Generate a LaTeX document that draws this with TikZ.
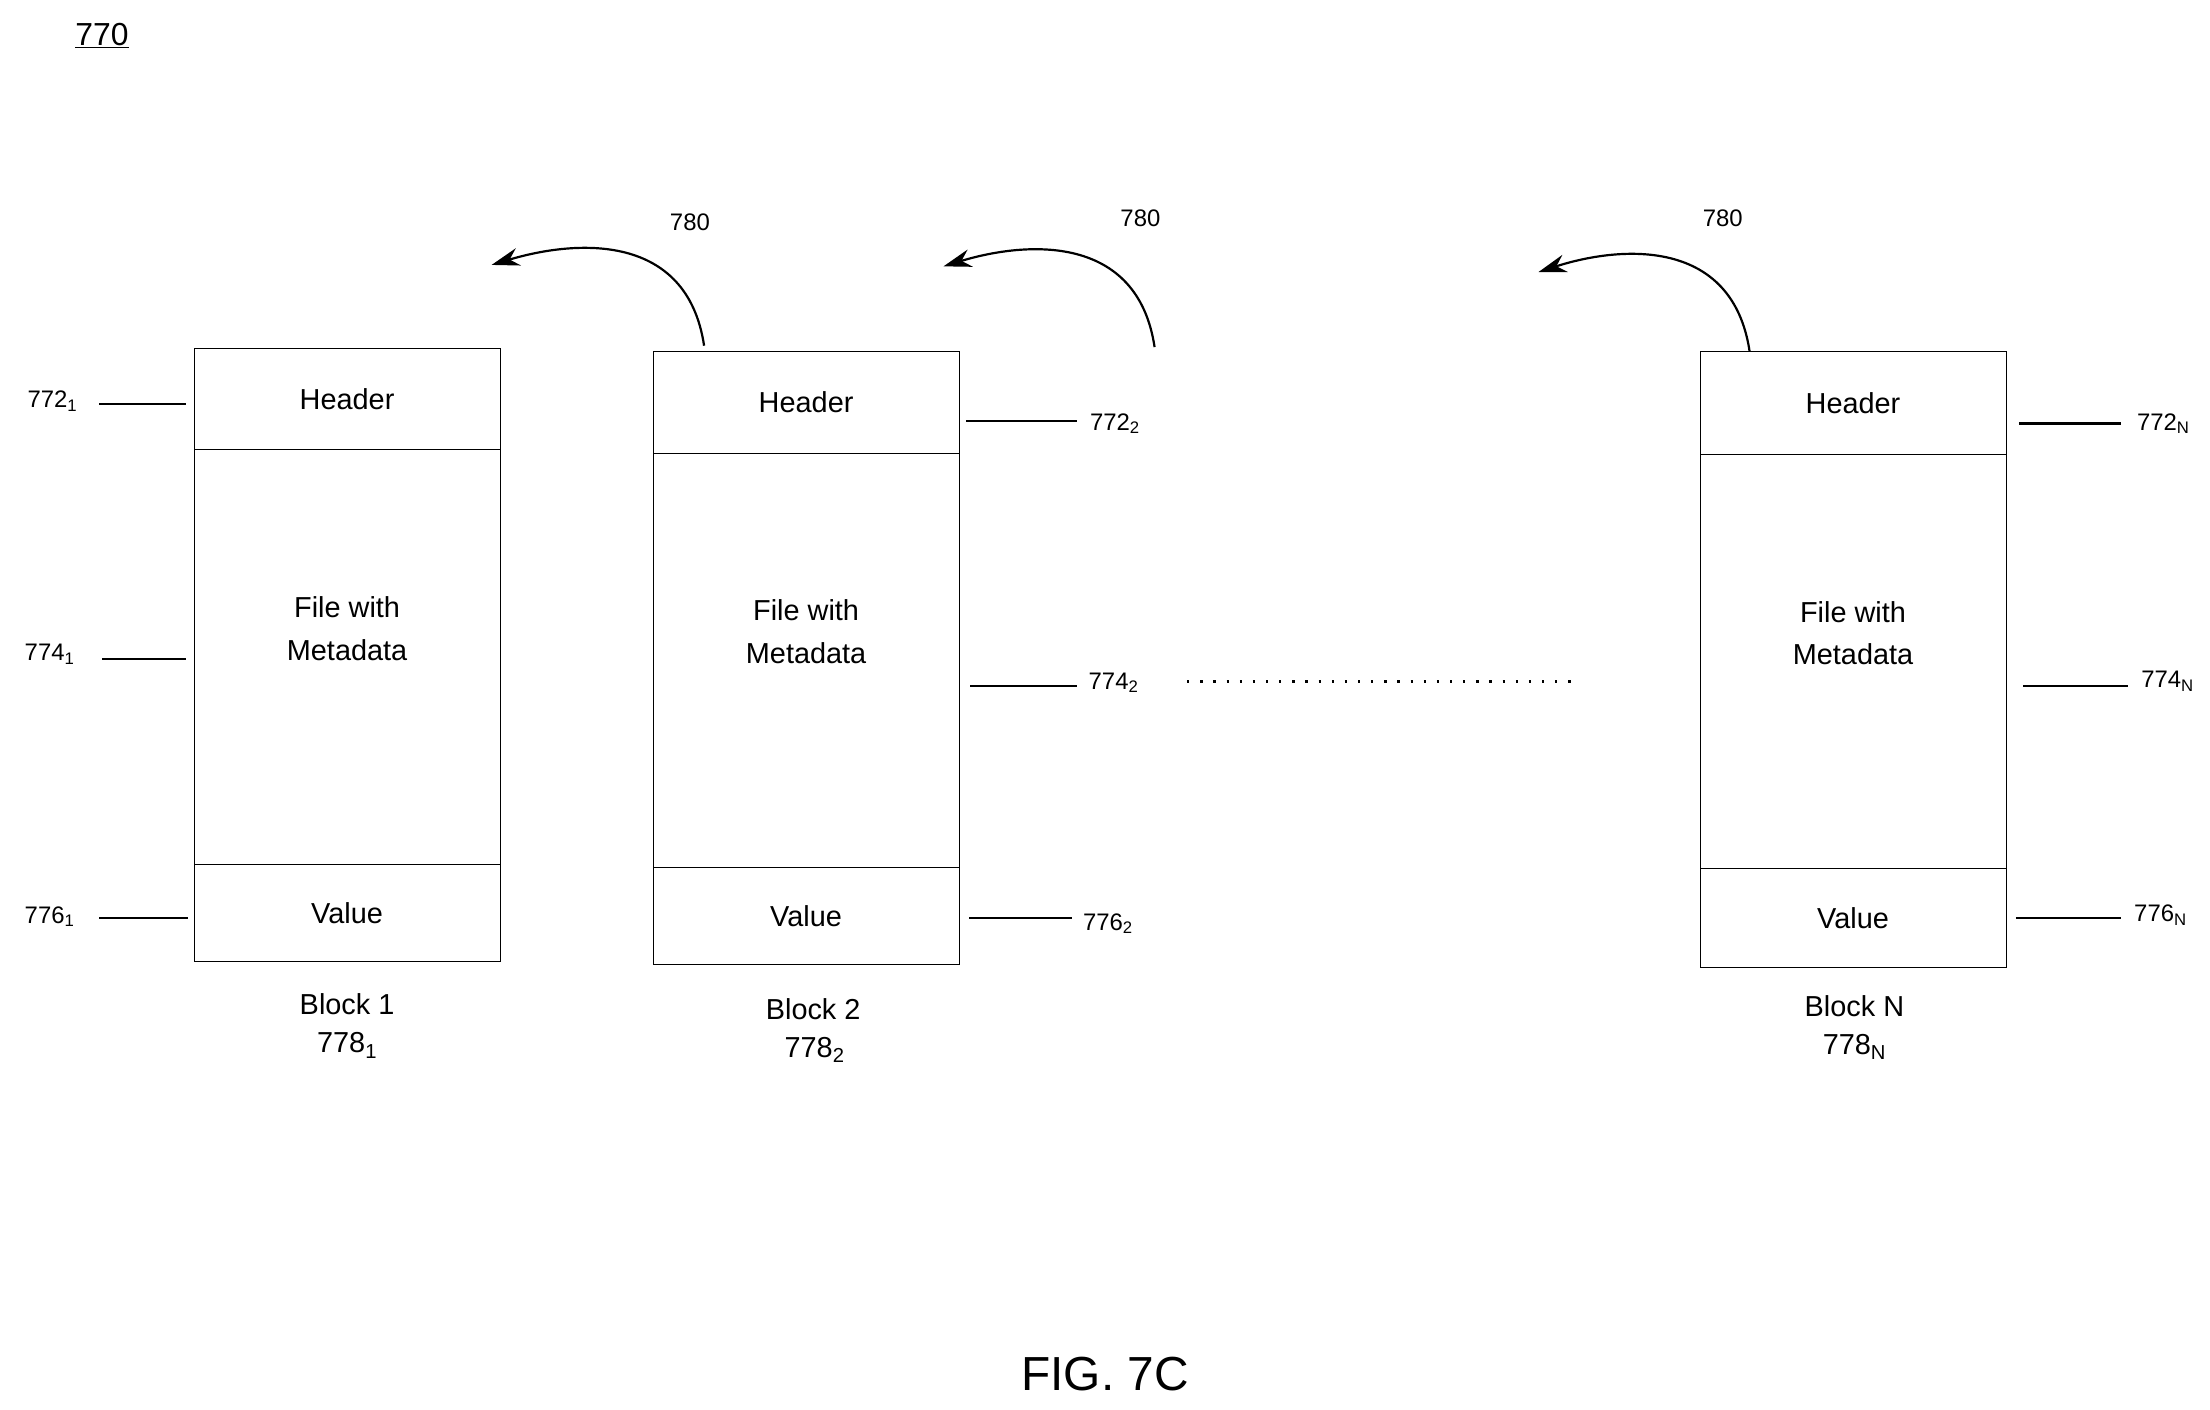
\documentclass[tikz,border=0pt]{standalone}
\usepackage{fontspec}
\setmainfont{Liberation Sans}
\usetikzlibrary{arrows.meta}
\begin{document}
\begin{tikzpicture}[x=0.05cm,y=-0.05cm,
  box/.style={draw,line width=1pt},
  lbl/.style={font=\fontsize{24}{28}\selectfont,inner sep=0pt},
  txt/.style={font=\fontsize{29}{35}\selectfont,align=center,inner sep=0pt},
  lead/.style={line width=2.2pt},
  arr/.style={line width=2.2pt,-{Stealth[length=28pt,width=18pt]}}]
\useasboundingbox (0,0) rectangle (1560,994.6);
\node[lbl,font=\fontsize{32}{36}\selectfont] (fig) at (72,25) {\underline{770}};
% blocks
\foreach \n/\x/\yt/\ya/\yb/\yc in {1/137/246/317/610/679, 2/461/248/320/612/681, N/1200/248/321/613/683}{
  \draw[box] (\x,\yt) rectangle (\x+216,\yc);
  \draw[box] (\x,\ya) -- (\x+216,\ya);
  \draw[box] (\x,\yb) -- (\x+216,\yb);
  \node[txt] (h\n) at (\x+108,{(\yt+\ya)/2}) {Header};
  \node[txt,font=\fontsize{29}{43}\selectfont] (f\n) at (\x+108,{(\ya+\yb)/2-20}) {File with\\Metadata};
  \node[txt] (v\n) at (\x+108,{(\yb+\yc)/2}) {Value};
}
\node[txt] (b1) at (245,709) {Block 1};
\node[txt] (n1) at (245,738) {778\textsubscript{1}};
\node[txt] (b2) at (574,712) {Block 2};
\node[txt] (n2) at (575,741) {778\textsubscript{2}};
\node[txt] (bN) at (1309,710) {Block N};
\node[txt] (nN) at (1309,739) {778\textsubscript{N}};
% left labels block 1
\node[lbl] (l1a) at (37,283) {772\textsubscript{1}};
\node[lbl] (l1b) at (35,462) {774\textsubscript{1}};
\node[lbl] (l1c) at (35,647) {776\textsubscript{1}};
\draw[lead] (70,285) -- (131,285);
\draw[lead] (72,465) -- (131,465);
\draw[lead] (70,648) -- (133,648);
% block 2
\node[lbl] (l2a) at (787,299) {772\textsubscript{2}};
\node[lbl] (l2b) at (786,482) {774\textsubscript{2}};
\node[lbl] (l2c) at (782,652) {776\textsubscript{2}};
\draw[lead] (682,297) -- (760,297);
\draw[lead] (685,484) -- (760,484);
\draw[lead] (684,648) -- (757,648);
% block N
\node[lbl] (lNa) at (1527,299) {772\textsubscript{N}};
\node[lbl] (lNb) at (1530,481) {774\textsubscript{N}};
\node[lbl] (lNc) at (1525,646) {776\textsubscript{N}};
\draw[lead] (1425,299) -- (1497,299);
\draw[lead] (1428,484) -- (1502,484);
\draw[lead] (1423,648) -- (1497,648);
% arrows
\foreach \i/\sx/\sy/\ex/\ey/\tx/\ty in {a/497/244/347/187/487/157, b/815/245/666/188/805/154, c/1235/248/1086/192/1216/154}{
  \coordinate (s\i) at (\sx,\sy);
  \coordinate (e\i) at (\ex,\ey);
  \draw[arr] (s\i) .. controls (\sx-12,\sy-80) and (\sx-90,\sy-75) .. (e\i);
  \node[lbl] (t\i) at (\tx,\ty) {780};
}
\coordinate (d1) at (838,481);
\coordinate (d2) at (1115,481);
\draw[line width=2.2pt,dash pattern=on 2.2pt off 11pt] (d1) -- (d2);
\node[font=\fontsize{48}{56}\selectfont,inner sep=0pt] (cap) at (780,970) {FIG. 7C};
\end{tikzpicture}
\end{document}
